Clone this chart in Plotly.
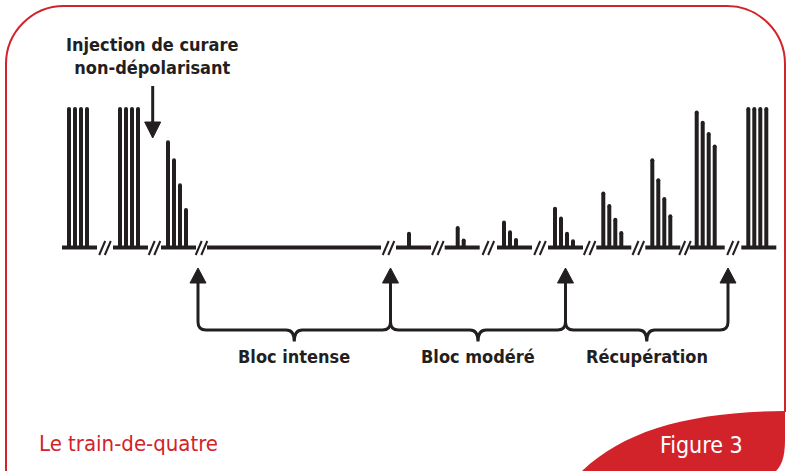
import plotly.graph_objects as go

# Train-de-quatre : amplitude de T1..T4 (% de la réponse de contrôle) pour chaque train
groups = ["contrôle 1", "contrôle 2", "injection", "modéré 1", "modéré 2", "modéré 3",
          "récup. 1", "récup. 2", "récup. 3", "récup. 4", "récup. 5"]
t1 = [100, 100, 76, 0, 0, 18, 28, 39, 63, 97.5, 100]
t2 = [100, 100, 63, 10, 14, 11, 21, 30, 48.5, 90, 100]
t3 = [100, 100, 45, 0, 5, 5.5, 10, 20, 35, 82, 100]
t4 = [100, 100, 27, 0, 0, 0, 4.5, 10.5, 22.5, 73, 100]

phases = ["Bloc intense", "Bloc modéré", "Récupération"]
injection_label = "Injection de curare<br>non-dépolarisant"
title_left = "Le train-de-quatre"
title_right = "Figure 3"

# mise en page (pixels de la figure)
W, H = 789, 471
INK = "#231f20"
RED = "#d2232b"
NARROW = "DejaVu Sans Condensed, Roboto, Liberation Sans, sans-serif"
group_x = [69, 120, 168, 403, 451.7, 504, 555, 603.3, 652.3, 696.7, 748.3]
intense_seg = (207, 381)
arrow_x = [198, 390.5, 565.5, 728]
base_px, full_px = 247.5, 109

# axe y des barres : 0 % -> base_px, 100 % -> full_px
span = 100 * H / (base_px - full_px)
y_hi = base_px * span / H
y_lo = y_hi - span

fig = go.Figure()

# segments de base (ligne de temps) et coupures //
segments = []
for i, gx in enumerate(group_x):
    segments.append((gx - 7, gx + 28))
    if i == 2:
        segments.append(intense_seg)

bx, by = [], []
for a, b in segments:
    bx += [a, b, None]
    by += [0, 0, None]
fig.add_trace(go.Scatter(x=bx, y=by, mode="lines", line=dict(color=INK, width=4),
                         hoverinfo="skip", showlegend=False))

# barres
vx, vy, tx, ty = [], [], [], []
for gi, gx in enumerate(group_x):
    for k, h in enumerate([t1[gi], t2[gi], t3[gi], t4[gi]]):
        if h <= 0:
            continue
        xx = gx + 6 * k
        vx += [xx, xx, None]
        vy += [0, h, None]
        tx.append(xx)
        ty.append(h)
fig.add_trace(go.Scatter(x=vx, y=vy, mode="lines", line=dict(color=INK, width=4),
                         hoverinfo="skip", showlegend=False))
fig.add_trace(go.Scatter(x=tx, y=ty, mode="markers", marker=dict(color=INK, size=4),
                         hoverinfo="skip", showlegend=False))

# axe en pixels pour les décorations
fig.add_trace(go.Scatter(x=[0], y=[0], yaxis="y2", mode="markers", marker=dict(opacity=0),
                         hoverinfo="skip", showlegend=False))

shapes = []


def px_path(d, color=INK, width=3, fill=None):
    s = dict(type="path", path=d, xref="x", yref="y2",
             line=dict(color=color, width=width))
    if fill:
        s["fillcolor"] = fill
    return s


# coupures //
for (a0, a1), (b0, b1) in zip(segments[:-1], segments[1:]):
    c = (a1 + b0) / 2
    for dx in (-2.8, 2.8):
        shapes.append(px_path(f"M{c + dx - 3},{255} L{c + dx + 3},{241}", width=2))

# flèche d'injection
ix = 152.7
shapes.append(px_path(f"M{ix},86 L{ix},124", width=3))
shapes.append(px_path(f"M{ix - 8},122 L{ix + 8},122 L{ix},138 Z", width=1, fill=INK))

# flèches vers le haut et accolades
yb, r, tip = 330, 8, 341.5
for ax in arrow_x:
    shapes.append(px_path(f"M{ax},281 L{ax},{yb - r}", width=3))
    shapes.append(px_path(f"M{ax - 8},283 L{ax + 8},283 L{ax},268 Z", width=1, fill=INK))
for a, b in zip(arrow_x[:-1], arrow_x[1:]):
    c = (a + b) / 2
    d = (f"M{a},{yb - r} Q{a},{yb} {a + r},{yb} L{c - r},{yb} Q{c},{yb} {c},{tip} "
         f"M{c},{tip} Q{c},{yb} {c + r},{yb} L{b - r},{yb} Q{b},{yb} {b},{yb - r}")
    shapes.append(px_path(d, width=3))

# cadre rouge arrondi
R = 58
L, T, Rt = 6, 6, 785
shapes.append(px_path(
    f"M{L},{H} L{L},{T + R} C{L},{T + R * 0.45} {L + R * 0.45},{T} {L + R},{T} "
    f"L{Rt - R},{T} C{Rt - R * 0.45},{T} {Rt},{T + R * 0.45} {Rt},{T + R} L{Rt},412",
    color=RED, width=2))

# onglet "Figure 3"
shapes.append(px_path(
    f"M582,{H} C625,430 690,412 {Rt},411 L{Rt},440 C{Rt},458 781,466 776,{H} Z",
    color=RED, width=0, fill=RED))

annotations = [
    dict(x=152, y=56, text=injection_label, showarrow=False,
         font=dict(family=NARROW, size=18, color=INK, weight="bold")),
    dict(x=37, y=443, text=title_left, showarrow=False, xanchor="left",
         font=dict(family=NARROW, size=22, color=RED, weight=300)),
    dict(x=701, y=445, text=title_right, showarrow=False,
         font=dict(family=NARROW, size=23, color="white", weight=300)),
]
for (a, b), label in zip(zip(arrow_x[:-1], arrow_x[1:]), phases):
    annotations.append(dict(x=(a + b) / 2, y=356, text=label, showarrow=False,
                            font=dict(family=NARROW, size=18, color=INK, weight="bold")))
for an in annotations:
    an.update(xref="x", yref="y2")

fig.update_layout(
    width=W, height=H,
    margin=dict(l=0, r=0, t=0, b=0),
    paper_bgcolor="white", plot_bgcolor="white",
    xaxis=dict(range=[0, W], visible=False, fixedrange=True),
    yaxis=dict(range=[y_lo, y_hi], visible=False, fixedrange=True),
    yaxis2=dict(range=[H, 0], visible=False, overlaying="y", fixedrange=True),
    shapes=shapes,
    annotations=annotations,
    showlegend=False,
)

fig.write_html("out.html", config={"displayModeBar": False},
               post_script="document.body.style.margin='0';document.body.style.overflow='hidden';")
